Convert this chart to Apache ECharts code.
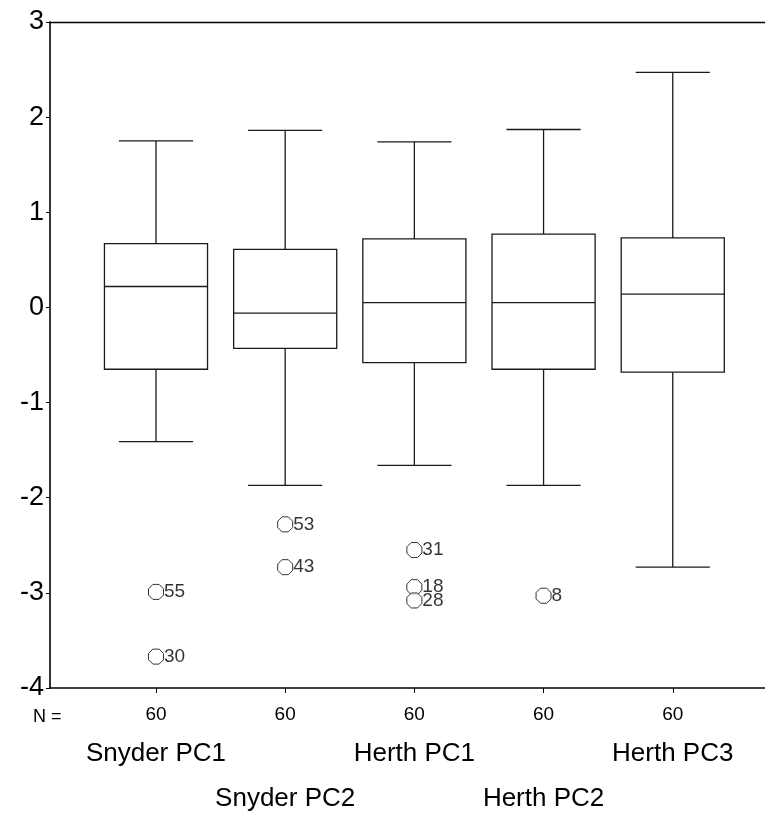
<!DOCTYPE html>
<html><head><meta charset="utf-8">
<script src="https://cdn.jsdelivr.net/npm/echarts@6/dist/echarts.min.js"></script>
<style>html,body{margin:0;padding:0;background:#fff}#c{width:765px;height:814px}</style>
</head><body><div id="c"></div><script>
// ---- data ----
const categories = ['Snyder PC1', 'Snyder PC2', 'Herth PC1', 'Herth PC2', 'Herth PC3'];
const nValues = [60, 60, 60, 60, 60];
const whiskerLow = [-1.41, -1.87, -1.66, -1.87, -2.73];
const q1 = [-0.65, -0.43, -0.58, -0.65, -0.68];
const median = [0.22, -0.06, 0.05, 0.05, 0.14];
const q3 = [0.67, 0.61, 0.72, 0.77, 0.73];
const whiskerHigh = [1.75, 1.86, 1.74, 1.87, 2.47];
const outlierGroup = [0, 0, 1, 1, 2, 2, 2, 3];
const outlierValue = [-2.99, -3.67, -2.28, -2.73, -2.55, -2.94, -3.08, -3.03];
const outlierId = ['55', '30', '53', '43', '31', '18', '28', '8'];
const yMin = -4, yMax = 3, yStep = 1;

// ---- build ----
const FONT = 'Liberation Sans, Arial, Helvetica, sans-serif';
const positions = categories.map((c, i) => i + 1);
const rowOnePos = positions.filter((p, i) => i % 2 === 0);
const rowTwoPos = positions.filter((p, i) => i % 2 === 1);
const boxData = categories.map((c, i) => [positions[i], whiskerLow[i], q1[i], median[i], q3[i], whiskerHigh[i]]);
const outlierData = outlierValue.map((v, i) => [positions[outlierGroup[i]], v, outlierId[i]]);
const catName = v => { const i = Math.round(v) - 1; return (i >= 0 && i < categories.length) ? categories[i] : ''; };
const nName = v => { const i = Math.round(v) - 1; return (i >= 0 && i < nValues.length) ? String(nValues[i]) : ''; };

const chart = echarts.init(document.getElementById('c'), null, {renderer: 'canvas'});
const LINE = {stroke: '#1a1a1a', lineWidth: 1.3, fill: null};

function renderBox(params, api) {
  const x = api.value(0);
  const pLow = api.coord([x, api.value(1)]);
  const pQ1 = api.coord([x, api.value(2)]);
  const pMed = api.coord([x, api.value(3)]);
  const pQ3 = api.coord([x, api.value(4)]);
  const pHigh = api.coord([x, api.value(5)]);
  const halfBox = api.size([0.399, 0])[0];
  const halfCap = api.size([0.287, 0])[0];
  const cx = pMed[0];
  const ln = (x1, y1, x2, y2) => ({type: 'line', shape: {x1, y1, x2, y2}, style: LINE});
  return {
    type: 'group',
    children: [
      ln(cx, pHigh[1], cx, pQ3[1]),
      ln(cx - halfCap, pHigh[1], cx + halfCap, pHigh[1]),
      ln(cx, pQ1[1], cx, pLow[1]),
      ln(cx - halfCap, pLow[1], cx + halfCap, pLow[1]),
      {type: 'rect', shape: {x: cx - halfBox, y: pQ3[1], width: 2 * halfBox, height: pQ1[1] - pQ3[1]},
       style: {stroke: '#1a1a1a', lineWidth: 1.3, fill: '#fff'}},
      ln(cx - halfBox, pMed[1], cx + halfBox, pMed[1])
    ]
  };
}

const xMin = 0.1796, xMax = 5.714;
const nameAxis = (vals, margin) => ({
  type: 'value', min: xMin, max: xMax, position: 'bottom', offset: 0,
  axisLine: {show: false}, axisTick: {show: false}, splitLine: {show: false},
  axisLabel: {
    show: true, customValues: vals, margin: margin, color: '#000', fontFamily: FONT,
    fontSize: 26, lineHeight: 30, showMinLabel: true, showMaxLabel: true, hideOverlap: false,
    formatter: catName
  }
});

const option = {
  animation: false,
  backgroundColor: '#fff',
  textStyle: {fontFamily: FONT},
  grid: {left: 50, right: 0, top: 22, bottom: 122, containLabel: false},
  xAxis: [{
    type: 'value', min: xMin, max: xMax, position: 'bottom',
    axisLine: {show: true, onZero: false, lineStyle: {color: '#000', width: 1.6}},
    axisTick: {show: true, customValues: positions, length: 5, lineStyle: {color: '#000', width: 1}},
    axisLabel: {
      show: true, customValues: positions, margin: 16, color: '#000', fontFamily: FONT,
      fontSize: 19, lineHeight: 22, showMinLabel: true, showMaxLabel: true, hideOverlap: false,
      formatter: nName
    },
    splitLine: {show: false}
  }, {
    type: 'value', min: xMin, max: xMax, position: 'top',
    axisLine: {show: true, onZero: false, lineStyle: {color: '#000', width: 1.4}},
    axisTick: {show: false}, axisLabel: {show: false}, splitLine: {show: false}
  },
  nameAxis(rowOnePos, 51),
  nameAxis(rowTwoPos, 96)
  ],
  yAxis: {
    type: 'value', min: yMin, max: yMax, interval: yStep,
    axisLine: {show: true, onZero: false, lineStyle: {color: '#000', width: 1.6}},
    axisTick: {show: true, length: 4, lineStyle: {color: '#000', width: 1}},
    axisLabel: {fontSize: 27, color: '#000', margin: 6, fontFamily: FONT},
    splitLine: {show: false}
  },
  graphic: [{
    type: 'text', left: 33, top: 708,
    style: {text: 'N =', fontSize: 18, fill: '#000', fontFamily: FONT}
  }],
  series: [{
    type: 'custom',
    renderItem: renderBox,
    data: boxData,
    encode: {x: 0, y: [1, 2, 3, 4, 5]},
    clip: false,
    z: 2
  }, {
    type: 'scatter',
    data: outlierData,
    symbol: 'path://M2.93,0 L7.07,0 L10,2.93 L10,7.07 L7.07,10 L2.93,10 L0,7.07 L0,2.93 Z',
    symbolSize: 15,
    itemStyle: {color: '#fff', borderColor: '#000', borderWidth: 1},
    label: {
      show: true, position: 'right', distance: 0, color: '#000', fontSize: 19, fontFamily: FONT,
      formatter: p => p.value[2]
    },
    z: 3
  }]
};
chart.setOption(option);
</script></body></html>
